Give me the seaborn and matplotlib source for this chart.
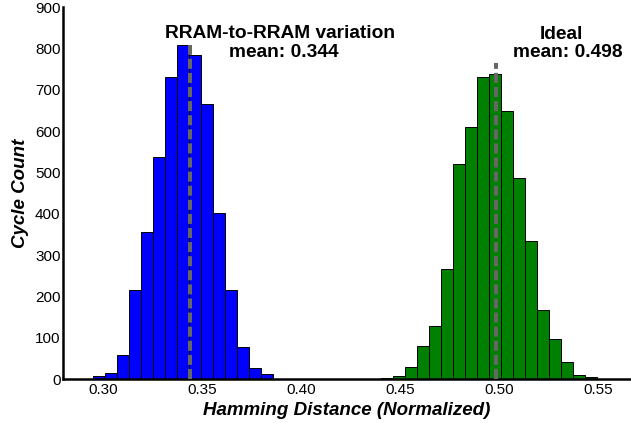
import numpy as np
import pandas as pd
import matplotlib
matplotlib.use("Agg")
import matplotlib.pyplot as plt
import seaborn as sns

# Histogram counts per bin (shared bin width), with the left edge of each series
bin_width = 0.00606
rram_left = 0.2951
rram_counts = [8, 15, 60, 215, 357, 537, 731, 809, 785, 665, 402, 215, 77, 27, 13]
ideal_left = 0.4401
ideal_counts = [2, 8, 29, 80, 130, 268, 522, 610, 732, 738, 649, 486, 334, 168, 98, 42, 10, 5]

# Mean values and the height of each mean marker line
means = [0.344, 0.498]
mean_line_tops = [810, 765]
titles = ["RRAM-to-RRAM variation", "Ideal"]

x_ticks = [0.30, 0.35, 0.40, 0.45, 0.50, 0.55]
y_ticks = [0, 100, 200, 300, 400, 500, 600, 700, 800, 900]

sns.set_style("white")
plt.rcParams["font.family"] = ["Liberation Sans", "DejaVu Sans"]
plt.rcParams["text.color"] = "black"
plt.rcParams["axes.labelcolor"] = "black"
plt.rcParams["xtick.color"] = "black"
plt.rcParams["ytick.color"] = "black"

fig = plt.figure(figsize=(6.31, 4.23), dpi=100)
ax = fig.add_axes([0.1003, 0.1033, 0.8997, 0.8794])


def draw_hist(left, counts, color):
    edges = left + bin_width * np.arange(len(counts) + 1)
    df = pd.DataFrame({"x": (edges[:-1] + edges[1:]) / 2,
                       "w": np.asarray(counts, dtype=float)})
    sns.histplot(data=df, x="x", weights="w", bins=list(edges), color=color,
                 alpha=1, edgecolor="black", linewidth=0.7, ax=ax)


draw_hist(rram_left, rram_counts, "#0000ff")
draw_hist(ideal_left, ideal_counts, "#008000")

for m, top in zip(means, mean_line_tops):
    ax.plot([m, m], [0, top], color="#666666", lw=2.9, dashes=(2.5, 1.0),
            solid_capstyle="butt", dash_capstyle="butt", zorder=5)

label_kw = dict(fontsize=13.8, fontweight="bold", ha="center", va="baseline",
                color="black")
ax.text(0.3893, 826, titles[0], **label_kw)
ax.text(0.3910, 779, f"mean: {means[0]:.3f}", **label_kw)
ax.text(0.5310, 823, titles[1], **label_kw)
ax.text(0.5345, 779, f"mean: {means[1]:.3f}", **label_kw)

ax.set_xlim(0.28, 0.5663)
ax.set_ylim(0, 900)
ax.set_xticks(x_ticks)
ax.set_xticklabels([f"{v:.2f}" for v in x_ticks])
ax.set_yticks(y_ticks)
ax.tick_params(axis="both", direction="in", length=4, width=1.5, labelsize=11,
               colors="black", pad=3)
ax.tick_params(axis="y", pad=2)

for side in ["top", "right"]:
    ax.spines[side].set_visible(False)
for side in ["left", "bottom"]:
    ax.spines[side].set_color("black")
    ax.spines[side].set_linewidth(1.8)

ax.set_xlabel("Hamming Distance (Normalized)", fontsize=13.5, fontweight="bold",
              fontstyle="italic", labelpad=3)
ax.set_ylabel("Cycle Count", fontsize=13.5, fontweight="bold", fontstyle="italic",
              labelpad=4)

fig.savefig("out.png", dpi=100)
